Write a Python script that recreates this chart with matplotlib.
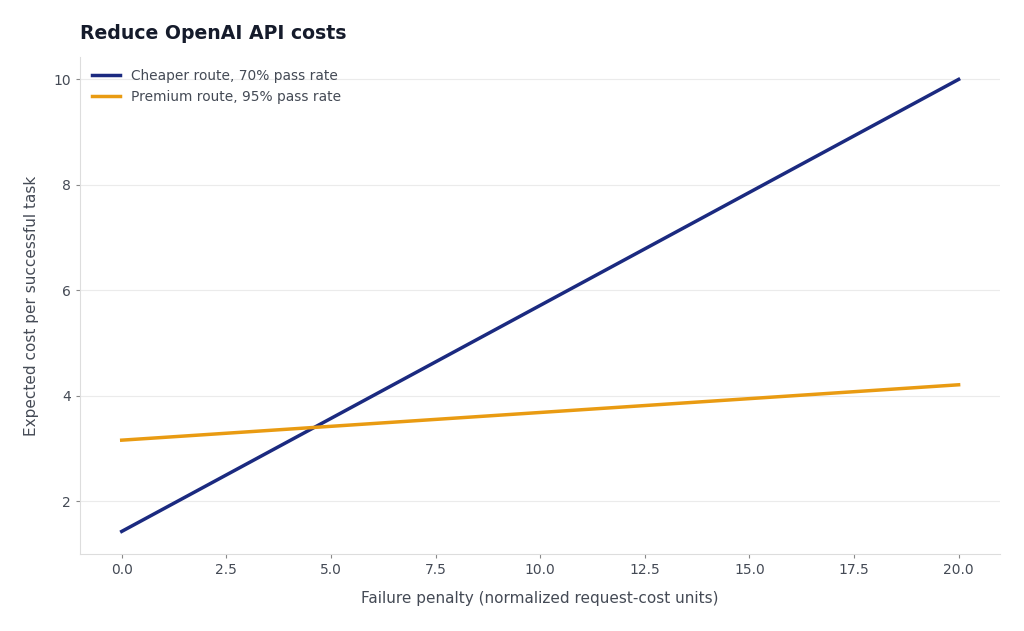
import numpy as np
import matplotlib
matplotlib.use("Agg")
import matplotlib.pyplot as plt

penalty = [0.0, 20.0]
cheaper_cost = [1.43, 10.0]
premium_cost = [3.16, 4.21]

plt.rcParams['font.family'] = ['DejaVu Sans']

fig, ax = plt.subplots(figsize=(10.24, 6.31), dpi=100)
fig.subplots_adjust(left=0.078, right=0.977, top=0.91, bottom=0.122)

ax.plot(penalty, cheaper_cost, color="#1b2a80", lw=2.5, label="Cheaper route, 70% pass rate")
ax.plot(penalty, premium_cost, color="#e99b12", lw=2.5, label="Premium route, 95% pass rate")

ax.set_title("Reduce OpenAI API costs", loc="left", fontsize=13.6, fontweight="bold",
             color="#151b2b", pad=13)
ax.set_xlabel("Failure penalty (normalized request-cost units)", fontsize=11, color="#444a55", labelpad=10)
ax.set_ylabel("Expected cost per successful task", fontsize=11, color="#444a55", labelpad=10)

ax.grid(axis="y", color="#ebebeb", lw=0.8)
ax.set_axisbelow(True)
for s in ["top", "right"]:
    ax.spines[s].set_visible(False)
for s in ["left", "bottom"]:
    ax.spines[s].set_color("#dddddd")
ax.tick_params(colors="#444a55", labelsize=10, length=3, color="#888888")

leg = ax.legend(loc="upper left", frameon=False, fontsize=9.9)
for t in leg.get_texts():
    t.set_color("#444a55")

fig.savefig("out.png", dpi=100, facecolor="white")
